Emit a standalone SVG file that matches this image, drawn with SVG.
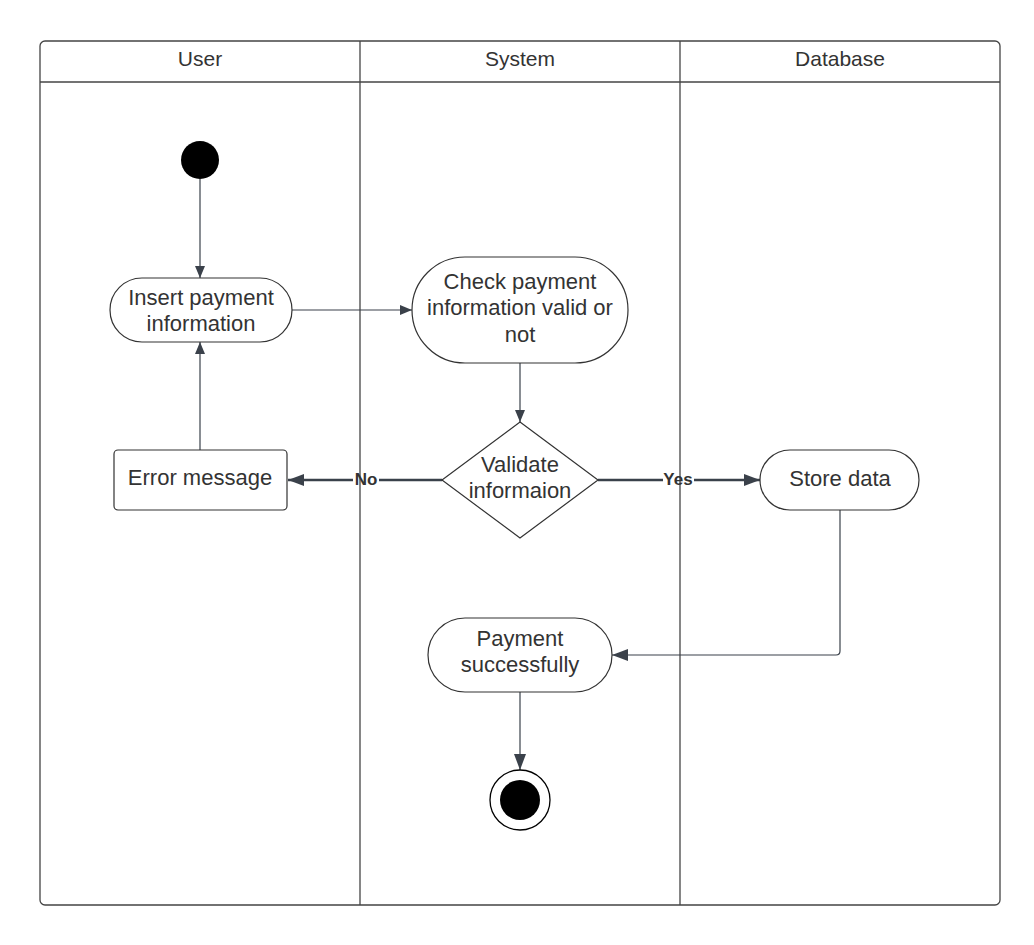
<svg xmlns="http://www.w3.org/2000/svg" width="1034" height="945" viewBox="0 0 1034 945">
<defs>
<style>
.lane{fill:none;stroke:#444;stroke-width:1.3}
.node{fill:#fff;stroke:#333;stroke-width:1.2}
.t{font-family:"Liberation Sans",Arial,sans-serif;font-size:22px;fill:#333;text-anchor:middle}
.h{font-family:"Liberation Sans",Arial,sans-serif;font-size:21px;fill:#333;text-anchor:middle}
.lbl{font-family:"Liberation Sans",Arial,sans-serif;font-size:17px;font-weight:bold;fill:#333;text-anchor:middle}
.c{fill:none;stroke:#3a414a;stroke-width:1.2}
.ct{fill:none;stroke:#3a414a;stroke-width:2.6}
</style>
<marker id="ah" viewBox="0 0 12 10" refX="12" refY="5" markerWidth="12" markerHeight="10" markerUnits="userSpaceOnUse" orient="auto">
<path d="M0,0 L12,5 L0,10 Z" fill="#3a414a"/>
</marker>
<marker id="ahb" viewBox="0 0 16 12" refX="16" refY="6" markerWidth="16" markerHeight="12" markerUnits="userSpaceOnUse" orient="auto">
<path d="M0,0 L16,6 L0,12 Z" fill="#3a414a"/>
</marker>
</defs>
<rect width="1034" height="945" fill="#fff"/>
<g id="lanes">
<rect class="lane" x="40" y="41" width="960" height="864" rx="5"/>
<line class="lane" x1="40" y1="82" x2="1000" y2="82"/>
<line class="lane" x1="360" y1="41" x2="360" y2="905"/>
<line class="lane" x1="680" y1="41" x2="680" y2="905"/>
<text class="h" x="200" y="66">User</text>
<text class="h" x="520" y="66">System</text>
<text class="h" x="840" y="66">Database</text>
</g>
<g id="connectors">
<line class="c" x1="200" y1="179" x2="200" y2="278" marker-end="url(#ah)"/>
<line class="c" x1="292" y1="310" x2="412" y2="310" marker-end="url(#ah)"/>
<line class="c" x1="520" y1="363" x2="520" y2="422" marker-end="url(#ah)"/>
<line class="ct" x1="442" y1="480" x2="379" y2="480"/>
<line class="ct" x1="353" y1="480" x2="288" y2="480" marker-end="url(#ahb)"/>
<line class="c" x1="200" y1="450" x2="200" y2="342" marker-end="url(#ah)"/>
<line class="ct" x1="598" y1="480" x2="663" y2="480"/>
<line class="ct" x1="694" y1="480" x2="760" y2="480" marker-end="url(#ahb)"/>
<path class="c" d="M840,510 L840,651 Q840,655 836,655 L612,655" marker-end="url(#ahb)"/>
<line class="c" x1="520" y1="692" x2="520" y2="770" marker-end="url(#ahb)"/>
<text class="lbl" x="366" y="485">No</text>
<text class="lbl" x="678" y="485">Yes</text>
</g>
<g id="start"><circle cx="200" cy="160" r="19" fill="#000"/></g>
<g id="insert">
<rect class="node" x="110" y="278" width="182" height="64" rx="32"/>
<text class="t" x="201" y="305">Insert payment</text>
<text class="t" x="201" y="331">information</text>
</g>
<g id="check">
<rect class="node" x="412" y="257" width="216" height="106" rx="53"/>
<text class="t" x="520" y="289">Check payment</text>
<text class="t" x="520" y="315">information valid or</text>
<text class="t" x="520" y="342">not</text>
</g>
<g id="validate">
<polygon class="node" points="520,422 598,480 520,538 442,480"/>
<text class="t" x="520" y="472">Validate</text>
<text class="t" x="520" y="498">informaion</text>
</g>
<g id="error">
<rect class="node" x="114" y="450" width="173" height="60" rx="4"/>
<text class="t" x="200" y="485">Error message</text>
</g>
<g id="store">
<rect class="node" x="760" y="450" width="159" height="60" rx="30"/>
<text class="t" x="840" y="486">Store data</text>
</g>
<g id="payment">
<rect class="node" x="428" y="618" width="184" height="74" rx="37"/>
<text class="t" x="520" y="646">Payment</text>
<text class="t" x="520" y="672">successfully</text>
</g>
<g id="end">
<circle cx="520" cy="800" r="30" fill="#fff" stroke="#000" stroke-width="1.3"/>
<circle cx="520" cy="800" r="20" fill="#000"/>
</g>
</svg>
